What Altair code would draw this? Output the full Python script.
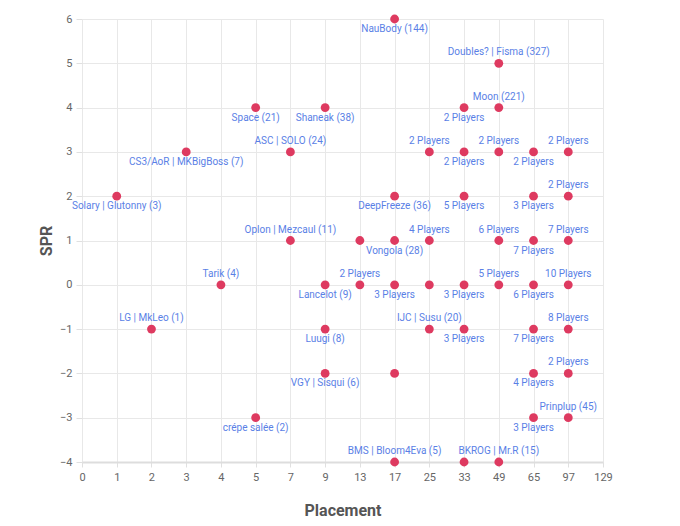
import altair as alt
import pandas as pd

# x-axis categories (placements) shown as equally spaced ticks
placement_ticks = [0, 1, 2, 3, 4, 5, 7, 9, 13, 17, 25, 33, 49, 65, 97, 129]
spr_ticks = [-4, -3, -2, -1, 0, 1, 2, 3, 4, 5, 6]

placement = [17, 49, 5, 9, 33, 49, 3, 7, 25, 33, 49, 65, 97,
             1, 17, 33, 65, 97,
             7, 13, 17, 25, 49, 65, 97,
             4, 9, 13, 17, 25, 33, 49, 65, 97,
             2, 9, 25, 33, 65, 97,
             9, 17, 65, 97,
             5, 65, 97,
             17, 33, 49]
spr = [6, 5, 4, 4, 4, 4, 3, 3, 3, 3, 3, 3, 3,
       2, 2, 2, 2, 2,
       1, 1, 1, 1, 1, 1, 1,
       0, 0, 0, 0, 0, 0, 0, 0, 0,
       -1, -1, -1, -1, -1, -1,
       -2, -2, -2, -2,
       -3, -3, -3,
       -4, -4, -4]
label_above = ["", "Doubles? | Fisma (327)", "", "", "", "Moon (221)", "", "ASC | SOLO (24)", "2 Players", "", "2 Players", "", "2 Players",
               "", "", "", "", "2 Players",
               "Oplon | Mezcaul (11)", "", "", "4 Players", "6 Players", "", "7 Players",
               "Tarik (4)", "", "2 Players", "", "", "", "5 Players", "", "10 Players",
               "LG | MkLeo (1)", "", "IJC | Susu (20)", "", "", "8 Players",
               "", "", "", "2 Players",
               "", "", "Prinplup (45)",
               "BMS | Bloom4Eva (5)", "", "BKROG | Mr.R (15)"]
label_below = ["NauBody (144)", "", "Space (21)", "Shaneak (38)", "2 Players", "", "CS3/AoR | MKBigBoss (7)", "", "", "2 Players", "", "2 Players", "",
               "Solary | Glutonny (3)", "DeepFreeze (36)", "5 Players", "3 Players", "",
               "", "", "Vongola (28)", "", "", "7 Players", "",
               "", "Lancelot (9)", "", "3 Players", "", "3 Players", "", "6 Players", "",
               "", "Luugi (8)", "", "3 Players", "7 Players", "",
               "VGY | Sisqui (6)", "", "4 Players", "",
               "crépe salée (2)", "3 Players", "",
               "", "", ""]

df = pd.DataFrame({
    "placement": placement,
    "spr": spr,
    "above": label_above,
    "below": label_below,
})

FONT = "Roboto"
POINT = "#DE3A60"
LABEL = "#5A7FE6"

x = alt.X("placement:O",
          scale=alt.Scale(type="point", domain=placement_ticks, padding=0),
          axis=alt.Axis(title="Placement", labelAngle=0, grid=True,
                        gridColor="#e8e8e8", domainColor="#dddddd", domainWidth=2,
                        tickColor="#e0e0e0", tickSize=5, labelColor="#666666",
                        labelFontSize=11, labelPadding=4, labelFont=FONT,
                        titleFont=FONT, titleFontSize=16, titleFontWeight="bold",
                        titleColor="#555555", titlePadding=20))
y = alt.Y("spr:Q",
          scale=alt.Scale(domain=[-4, 6], nice=False, zero=False),
          axis=alt.Axis(title="SPR", values=spr_ticks, format="d", grid=True,
                        gridColor="#e8e8e8", domain=False,
                        tickColor="#e0e0e0", tickSize=6, labelColor="#666666",
                        labelFontSize=11, labelPadding=4, labelFont=FONT,
                        titleFont=FONT, titleFontSize=16, titleFontWeight="bold",
                        titleColor="#555555", titlePadding=5))

base = alt.Chart(df)

points = base.mark_circle(size=78, opacity=1, color=POINT).encode(x=x, y=y)

above = base.transform_filter("datum.above != ''").mark_text(
    dy=-11, fontSize=10, font=FONT, color=LABEL, baseline="middle"
).encode(x=x, y=y, text="above:N")

below = base.transform_filter("datum.below != ''").mark_text(
    dy=10, fontSize=10, font=FONT, color=LABEL, baseline="middle"
).encode(x=x, y=y, text="below:N")

chart = alt.layer(points, above, below).properties(
    width=521, height=443,
    autosize=alt.AutoSizeParams(type="none"),
    padding={"left": 74, "top": 11, "right": 69, "bottom": 56},
).configure_view(stroke=None)

chart.save("out.html", embed_options={"renderer": "svg", "actions": False})
